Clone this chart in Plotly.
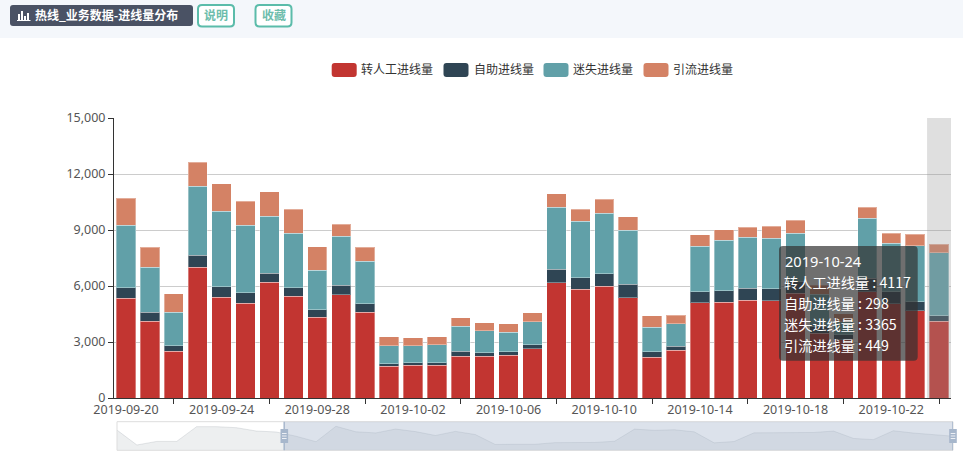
import plotly.graph_objects as go
import pandas as pd

W, H = 963, 452

dates = pd.date_range("2019-09-20", "2019-10-24").strftime("%Y-%m-%d").tolist()
names = ["转人工进线量", "自助进线量", "迷失进线量", "引流进线量"]
colors = ["#c23531", "#2f4554", "#61a0a8", "#d48265"]

manual = [5346, 4112, 2503, 7009, 5400, 5078, 6204, 5453, 4327, 5525, 4595, 1699,
          1752, 1752, 2235, 2235, 2289, 2646, 6187, 5829, 5990, 5382, 2181, 2557,
          5096, 5132, 5239, 5203, 5610, 3470, 3110, 5704, 5042, 4667, 4117]
self_serve = [572, 483, 304, 644, 572, 572, 483, 465, 411, 519, 465, 143,
              143, 143, 268, 197, 197, 197, 715, 608, 679, 715, 304, 215,
              590, 626, 644, 644, 620, 360, 270, 715, 662, 483, 298]
lost = [3344, 2414, 1788, 3683, 4041, 3594, 3040, 2897, 2110, 2610, 2253, 966,
        912, 966, 1341, 1162, 1037, 1252, 3326, 3022, 3218, 2897, 1305, 1216,
        2432, 2682, 2718, 2718, 2590, 1735, 715, 3218, 2575, 3004, 3365]
diverted = [1430, 1073, 983, 1287, 1466, 1287, 1323, 1287, 1252, 662, 769, 483,
            411, 411, 465, 429, 447, 465, 715, 662, 769, 715, 608, 447,
            626, 572, 554, 644, 710, 465, 411, 590, 554, 608, 449]
series = [manual, self_serve, lost, diverted]

# days before the zoom window, only seen in the slider shadow
earlier_manual = [5900, 1550, 2600, 2600, 6900, 6900, 6600, 5630]
slider_values = earlier_manual + manual

y_ticks = [0, 3000, 6000, 9000, 12000, 15000]
header_title = "热线_业务数据-进线量分布"
header_buttons = ["说明", "收藏"]

FONT = "Noto Sans, Noto Sans CJK SC, sans-serif"
CJK = "Noto Sans CJK SC, sans-serif"


def px(x):
    return x / W


def py(y):
    return 1 - y / H


def rect(x0, y0, x1, y1, fill, line=None, width=0, layer="above"):
    return dict(type="rect", xref="paper", yref="paper", layer=layer,
                x0=px(x0), x1=px(x1), y0=py(y0), y1=py(y1), fillcolor=fill,
                line=dict(color=line or fill, width=width))


def rounded(x0, y0, x1, y1, r, fill, line=None, width=0):
    # corners as a path, in paper coordinates
    rx, ry = r / W, r / H
    a, b, c, d = px(x0), px(x1), py(y0), py(y1)
    path = (f"M{a + rx},{c} L{b - rx},{c} Q{b},{c} {b},{c - ry} L{b},{d + ry} Q{b},{d} {b - rx},{d} "
            f"L{a + rx},{d} Q{a},{d} {a},{d + ry} L{a},{c - ry} Q{a},{c} {a + rx},{c} Z")
    return dict(type="path", xref="paper", yref="paper", layer="above", path=path,
                fillcolor=fill, line=dict(color=line or fill, width=width))


def label(x, y, text, size=12, color="#333", anchor="left", family=CJK):
    return dict(xref="paper", yref="paper", x=px(x), y=py(y), text=text, showarrow=False,
                xanchor=anchor, yanchor="middle", xshift=0, borderpad=0, align=anchor,
                font=dict(size=size, color=color, family=family))


fig = go.Figure()
for name, values, color in zip(names, series, colors):
    fig.add_trace(go.Bar(x=dates, y=values, name=name, marker_color=color,
                         marker_line=dict(color="rgba(255,255,255,0.35)", width=1),
                         xaxis="x", yaxis="y"))

fig.add_trace(go.Scatter(x=list(range(len(slider_values))), y=slider_values, mode="lines",
                         line=dict(color="rgba(47,69,84,0.12)", width=1), fill="tozeroy",
                         fillcolor="rgba(47,69,84,0.085)", xaxis="x2", yaxis="y2"))

shapes = [rect(0, 0, W, 38, "#f4f7fb", layer="below")]
annotations = []

# header
shapes.append(rounded(10, 5, 193, 26, 3, "#4a5264"))
for x0, top in [(18, 14), (21, 11), (24, 16), (27, 13)]:
    shapes.append(rect(x0, top, x0 + 2, 20, "#ffffff"))
shapes.append(rect(17, 20, 30.5, 21, "#ffffff"))
annotations.append(label(34, 15, f"<b>{header_title}</b>", 12, "#ffffff"))
for x0, text in zip([198, 255.5], header_buttons):
    shapes.append(rounded(x0, 5, x0 + 36, 26.5, 4, "#ffffff", "#5bbcaa", 2))
    annotations.append(label(x0 + 18, 15, f"<b>{text}</b>", 12, "#6dbdac", "center"))

# legend
for x0, tx, name, color in zip([331.7, 443.5, 543.5, 643.5], [360.2, 472.5, 572, 672], names, colors):
    shapes.append(rounded(x0, 63, x0 + 25, 77, 3, color))
    annotations.append(label(tx, 68.5, name, 12, "#333"))

# axis pointer shadow on the last day
shapes.append(dict(type="rect", xref="x", yref="paper", layer="above",
                   x0=len(dates) - 1.5, x1=len(dates) - 0.5, y0=py(398), y1=py(118),
                   fillcolor="rgba(150,150,150,0.3)", line_width=0))

# slider
slider_start = 8.4
slider_end = len(slider_values) - 1
shapes.append(rect(117, 421.7, 953, 450.3, "rgba(0,0,0,0)", "#dddddd", 1))
shapes.append(dict(type="rect", xref="x2", yref="paper", layer="above",
                   x0=slider_start, x1=slider_end, y0=py(450.3), y1=py(421.7),
                   fillcolor="rgba(167,183,204,0.4)", line_width=0))
for pos in [slider_start, slider_end]:
    shapes.append(dict(type="line", xref="x2", yref="paper", layer="above",
                       x0=pos, x1=pos, y0=py(450.3), y1=py(421.7),
                       line=dict(color="#a7b7cc", width=1.5)))
for cx in [284.3, 953]:
    shapes.append(rect(cx - 3.8, 429, cx + 3.8, 443, "#a7b7cc"))
    for ly in [433.5, 436, 438.5]:
        shapes.append(rect(cx - 2.3, ly - 0.4, cx + 2.3, ly + 0.4, "#ffffff"))

# tooltip for the last day
shapes.append(rounded(779, 246, 917.7, 360.7, 4, "rgba(50,50,50,0.7)"))
annotations.append(label(783.5, 261, dates[-1], 14.6, "#ffffff", family=FONT))
for ly, name, values in zip([282, 303, 324.3, 345], names, series):
    annotations.append(label(783, ly, f"{name} : {values[-1]}", 14.2, "#ffffff"))

fig.update_layout(
    width=W, height=H, autosize=False, barmode="stack", bargap=0.19,
    margin=dict(l=0, r=0, t=0, b=0), paper_bgcolor="white", plot_bgcolor="white",
    showlegend=False, hovermode=False, font=dict(family=FONT, size=12.5, color="#555"),
    xaxis=dict(domain=[px(114), px(951)], anchor="y", type="category", categoryorder="array",
               categoryarray=dates, tickmode="array", tickvals=dates[::4], ticks="", automargin=False,
               range=[-0.5, len(dates) - 0.5], showgrid=False, showline=True, linecolor="#333",
               linewidth=1, tickangle=0,
               minor=dict(tickmode="array", tickvals=dates[2::4], ticks="outside",
                          ticklen=5, tickcolor="#333", showgrid=False)),
    yaxis=dict(domain=[py(398), py(118)], anchor="x", range=[0, 15000], tickmode="array",
               tickvals=y_ticks, tickformat=",", ticks="outside", ticklen=5, tickcolor="#333",
               showline=True, linecolor="#333", linewidth=1, gridcolor="#cccccc", gridwidth=1,
               zeroline=False, automargin=False),
    xaxis2=dict(domain=[px(117), px(953)], anchor="y2", range=[0, slider_end], visible=False,
                automargin=False),
    yaxis2=dict(domain=[py(450.3), py(421.7)], anchor="x2", range=[0, 8350], visible=False,
                automargin=False),
    shapes=shapes, annotations=annotations,
)

fig.write_html("out.html", config=dict(displayModeBar=False),
               post_script="document.body.style.margin='0';document.body.style.overflow='hidden';")
